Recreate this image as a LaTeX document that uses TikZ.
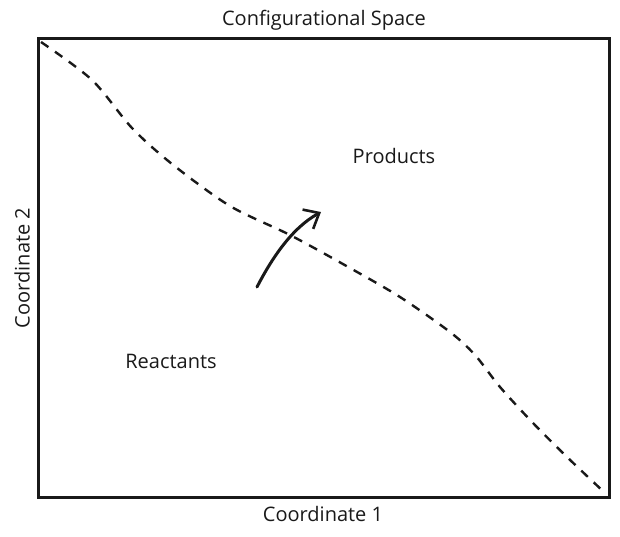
\documentclass[tikz,border=0pt]{standalone}
\usepackage{fontspec}
\setmainfont{Open Sans}
\usetikzlibrary{arrows.meta}
\begin{document}
\begin{tikzpicture}[x=1pt,y=-1pt,
  lbl/.style={font=\fontsize{20}{22}\selectfont, inner sep=0pt, text=black!90},
  frame/.style={draw=black!90, line width=3pt},
  path line/.style={draw=black!90, line width=2.4pt, dash pattern=on 9pt off 8pt},
  flow/.style={draw=black!90, line width=3pt, line cap=round, -{Straight Barb[length=13pt,width=22pt,line width=2.6pt]}}]
\useasboundingbox (0,0) rectangle (620,536);
\draw[frame] (38,38) rectangle (609,497);
\node[lbl] (title) at (324,20) {Configurational Space};
\node[lbl] (c1) at (323,514) {Coordinate 1};
\node[lbl, rotate=90] (c2) at (22,268) {Coordinate 2};
\node[lbl] (prod) at (394,156) {Products};
\node[lbl] (reac) at (171,361) {Reactants};
\draw[path line] plot[smooth, tension=0.5] coordinates {(41,42) (92,80) (132,128) (172,164) (230,206) (290,235) (350,268) (400,297) (450,332) (475,355) (500,387) (533,423) (567,457) (605,493)};
\coordinate (a0) at (257,287);
\coordinate (a1) at (321,212);
\draw[flow] (a0) .. controls (272,258) and (292,228) .. (a1);
\end{tikzpicture}
\end{document}
